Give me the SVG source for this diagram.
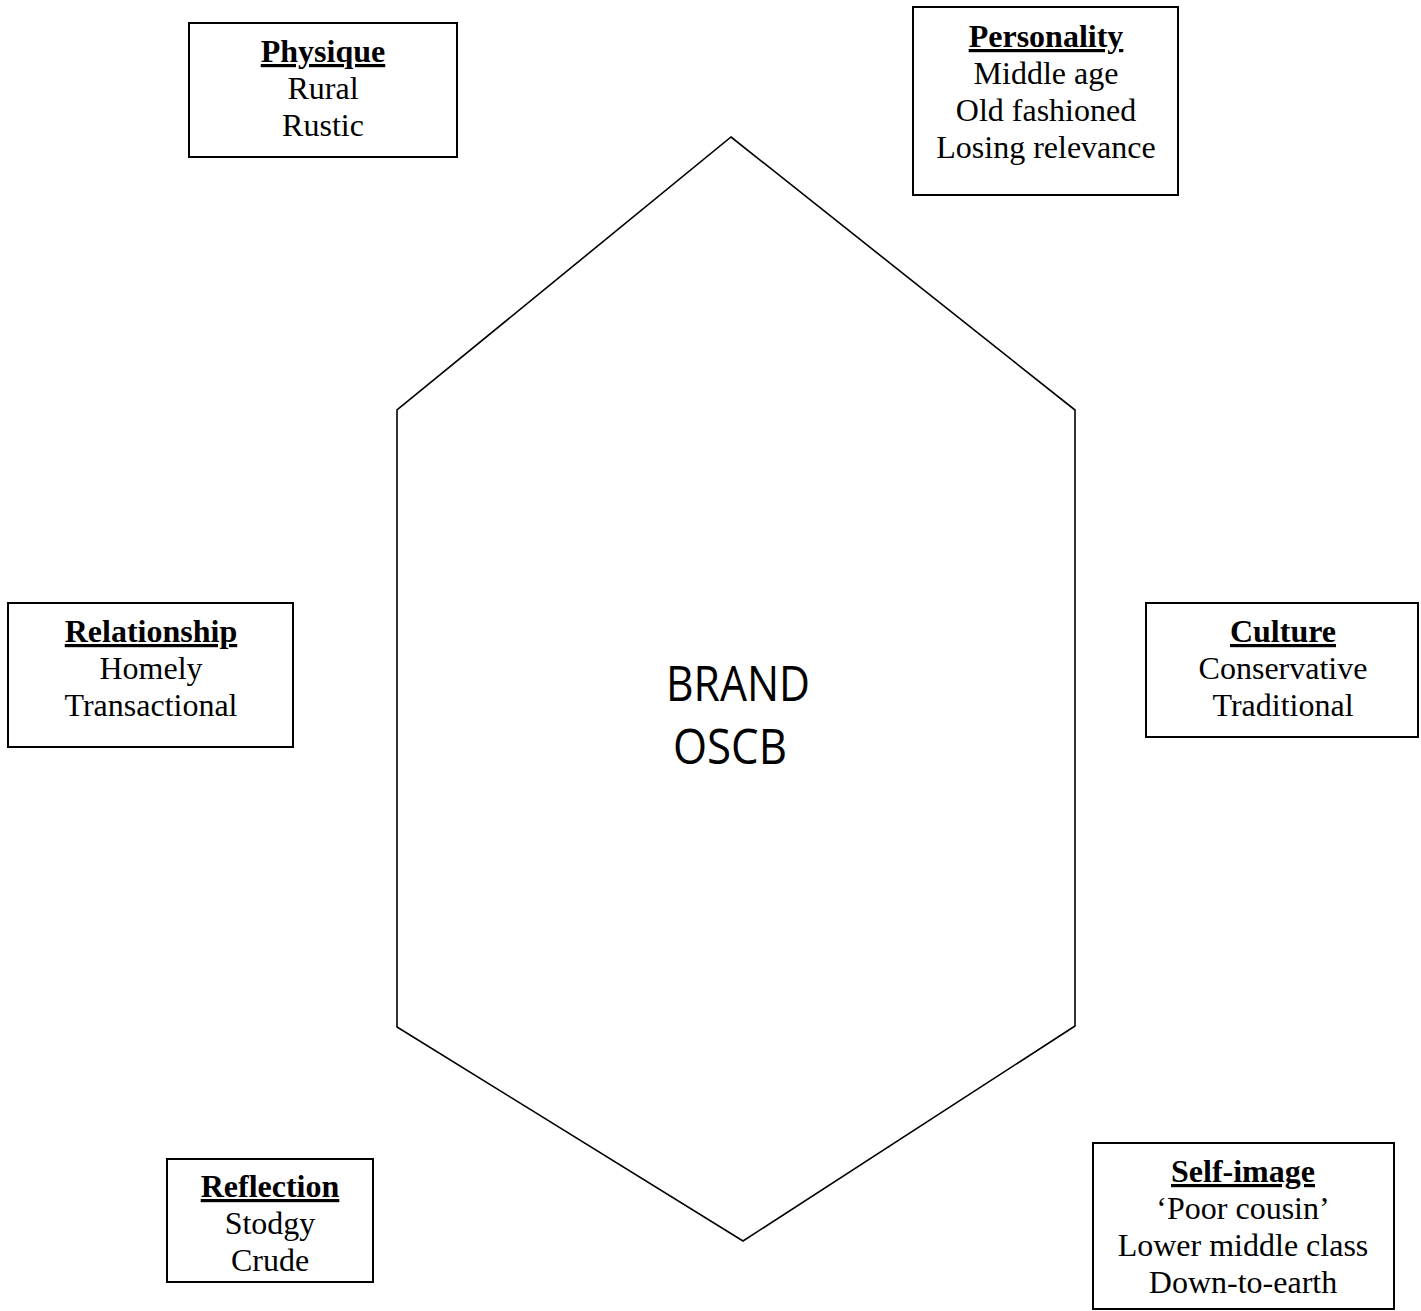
<svg xmlns="http://www.w3.org/2000/svg" width="1421" height="1311" viewBox="0 0 1421 1311">
<style>
.box{fill:#fff;stroke:#000;stroke-width:2}
.t{font-family:"Liberation Serif","Times New Roman",serif;font-size:32px;fill:#000;text-anchor:middle}
.h{font-weight:bold;text-decoration:underline}
.hex{fill:none;stroke:#000;stroke-width:1.6;stroke-linejoin:miter}
.c{font-family:"Open Sans","Noto Sans",sans-serif;font-size:50px;fill:#000}
</style>
<rect width="1421" height="1311" fill="#fff"/>
<g id="connectors"></g>
<g id="brand">
<polygon class="hex" points="731,137 1075,410 1075,1026 743,1241 397,1027 397,410"/>
<text class="c" x="666" y="701" textLength="144" lengthAdjust="spacingAndGlyphs">BRAND</text>
<text class="c" x="673" y="764" textLength="114" lengthAdjust="spacingAndGlyphs">OSCB</text>
</g>
<g id="physique">
<rect class="box" x="189" y="23" width="268" height="134"/>
<text class="t h" x="323" y="62">Physique</text>
<text class="t" x="323" y="99">Rural</text>
<text class="t" x="323" y="136">Rustic</text>
</g>
<g id="personality">
<rect class="box" x="913" y="7" width="265" height="188"/>
<text class="t h" x="1046" y="47">Personality</text>
<text class="t" x="1046" y="84">Middle age</text>
<text class="t" x="1046" y="121">Old fashioned</text>
<text class="t" x="1046" y="158">Losing relevance</text>
</g>
<g id="relationship">
<rect class="box" x="8" y="603" width="285" height="144"/>
<text class="t h" x="151" y="642">Relationship</text>
<text class="t" x="151" y="679">Homely</text>
<text class="t" x="151" y="716">Transactional</text>
</g>
<g id="culture">
<rect class="box" x="1146" y="603" width="272" height="134"/>
<text class="t h" x="1283" y="642">Culture</text>
<text class="t" x="1283" y="679">Conservative</text>
<text class="t" x="1283" y="716">Traditional</text>
</g>
<g id="reflection">
<rect class="box" x="167" y="1159" width="206" height="123"/>
<text class="t h" x="270" y="1197">Reflection</text>
<text class="t" x="270" y="1234">Stodgy</text>
<text class="t" x="270" y="1271">Crude</text>
</g>
<g id="self-image">
<rect class="box" x="1093" y="1143" width="301" height="166"/>
<text class="t h" x="1243" y="1182">Self-image</text>
<text class="t" x="1243" y="1219">‘Poor cousin’</text>
<text class="t" x="1243" y="1256">Lower middle class</text>
<text class="t" x="1243" y="1293">Down-to-earth</text>
</g>
</svg>
